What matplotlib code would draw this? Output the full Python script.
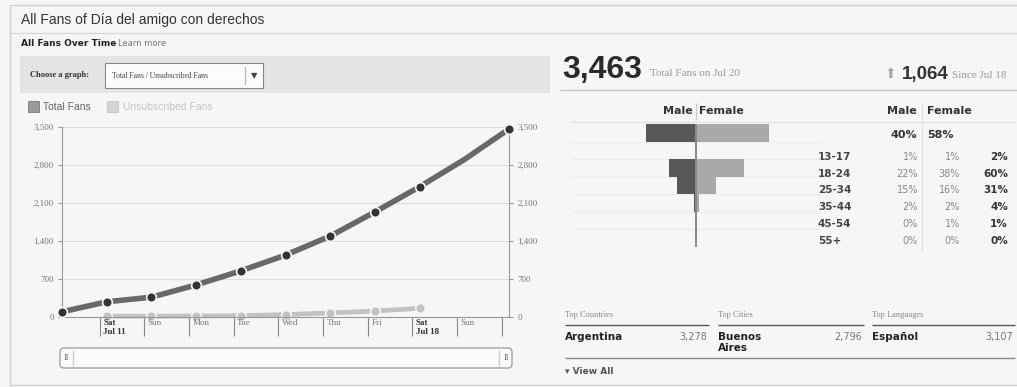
import matplotlib.pyplot as plt
from matplotlib.patches import Rectangle, FancyBboxPatch

W, H = 1017, 387

# fans over time, Jul 10 .. Jul 20
day_names = ['Jul 10', 'Jul 11', 'Jul 12', 'Jul 13', 'Jul 14', 'Jul 15',
             'Jul 16', 'Jul 17', 'Jul 18', 'Jul 19', 'Jul 20']
total_fans = [95, 280, 365, 590, 850, 1140, 1490, 1935, 2399, 2900, 3463]
# unsubscribed fans, Jul 11 .. Jul 18
unsub_fans = [15, 15, 18, 25, 45, 75, 110, 160]
tick_labels = ['Sat\nJul 11', 'Sun', 'Mon', 'Tue', 'Wed', 'Thu', 'Fri',
               'Sat\nJul 18', 'Sun', '']
y_ticks = [0, 700, 1400, 2100, 2800, 3500]

# demographics
age_groups = ['13-17', '18-24', '25-34', '35-44', '45-54', '55+']
male_pct = [1, 22, 15, 2, 0, 0]
female_pct = [1, 38, 16, 2, 1, 0]
total_pct = [2, 60, 31, 4, 1, 0]
male_all, female_all = 40, 58

top_country, country_n = 'Argentina', '3,278'
top_city, city_n = 'Buenos\nAires', '2,796'
top_lang, lang_n = 'Español', '3,107'

SANS = 'DejaVu Sans'
ARIAL = 'Liberation Sans'
SERIF = 'Liberation Serif'

fig = plt.figure(figsize=(W / 100, H / 100), dpi=100, facecolor='#f6f6f6')
bg = fig.add_axes([0, 0, 1, 1], zorder=0)
bg.set_xlim(0, W)
bg.set_ylim(H, 0)
bg.axis('off')


def px_axes(x0, y0, x1, y1, **kw):
    return fig.add_axes([x0 / W, 1 - y1 / H, (x1 - x0) / W, (y1 - y0) / H], **kw)


def hline(y, x0, x1, c='#d8d8d8', lw=1):
    bg.plot([x0, x1], [y, y], color=c, lw=lw, solid_capstyle='butt')


def vline(x, y0, y1, c='#d8d8d8', lw=1):
    bg.plot([x, x], [y0, y1], color=c, lw=lw, solid_capstyle='butt')


# frame and header
bg.add_patch(Rectangle((10, 5), 1010, 380, fc='none', ec='#d0d0d0', lw=1))
hline(33, 10, W)
bg.text(21, 20, 'All Fans of Día del amigo con derechos', fontsize=10,
        family=ARIAL, color='#333', va='center')
bg.text(21, 44, 'All Fans Over Time', fontsize=6.5, family=SANS,
        weight='bold', color='#222', va='center')
bg.text(118, 44, 'Learn more', fontsize=6, family=SANS, color='#777', va='center')

# graph chooser bar
bg.add_patch(Rectangle((20, 56), 530, 37, fc='#e4e4e4', ec='none'))
bg.text(30, 75, 'Choose a graph:', fontsize=6, family=SERIF, weight='bold',
        color='#333', va='center')
bg.add_patch(Rectangle((105, 63), 158, 25, fc='#fcfcfc', ec='#888', lw=0.8))
bg.text(112, 75.5, 'Total Fans / Unsubscribed Fans', fontsize=5.5,
        family=SERIF, color='#444', va='center')
vline(245, 66, 85, c='#bbb')
bg.text(254, 75.5, '▼', fontsize=6, family=SANS, color='#444',
        ha='center', va='center')

# series toggles
bg.add_patch(Rectangle((28, 101), 11, 11, fc='#9a9a9a', ec='#777', lw=0.6))
bg.text(43, 107, 'Total Fans', fontsize=7.5, family=ARIAL,
        color='#666', va='center')
bg.add_patch(Rectangle((107, 101), 11, 11, fc='#d4d4d4', ec='#c4c4c4', lw=0.6))
bg.text(123, 107, 'Unsubscribed Fans', fontsize=7.5, family=ARIAL,
        color='#c4c4c4', va='center')

# line chart
ax = px_axes(62, 127, 509, 317, zorder=2)
ax.patch.set_alpha(0)
x_days = list(range(len(day_names)))
x_unsub = x_days[1:1 + len(unsub_fans)]
ax.plot(x_days, total_fans, color='#686868', lw=4, solid_capstyle='round',
        zorder=3, clip_on=False)
mark = [i for i in x_days if day_names[i] != 'Jul 19']
ax.plot(mark, [total_fans[i] for i in mark], 'o', ms=7, mfc='#333',
        mec='#f6f6f6', mew=1.2, zorder=4, clip_on=False)
ax.plot(x_unsub, unsub_fans, color='#c2c2c2', lw=3.4, solid_capstyle='round',
        zorder=2, clip_on=False)
ax.plot(x_unsub, unsub_fans, 'o', ms=7, mfc='#c2c2c2', mec='#f6f6f6',
        mew=1.2, zorder=2, clip_on=False)

ax.set_xlim(0, 10)
ax.set_ylim(0, 3500)
ax.set_yticks(y_ticks)
ax.set_yticklabels([f'{v:,}' for v in y_ticks])
ax.tick_params(axis='y', left=True, right=True, labelleft=True,
               labelright=True, length=3, width=0.8, color='#999',
               labelsize=6.5, labelcolor='#777', pad=3)
for t in ax.yaxis.get_major_ticks():
    t.label1.set_family(SERIF)
    t.label2.set_family(SERIF)
ax.grid(axis='y', color='#dedede', lw=0.8)
ax.set_axisbelow(True)

tick_pos = [i - 0.16 for i in range(1, 11)]
ax.set_xticks(tick_pos)
ax.tick_params(axis='x', length=14, width=0.8, color='#888', labelbottom=False)
for p, lab in zip(tick_pos, tick_labels):
    bold = '\n' in lab
    ax.text(p + 0.08, -0.012, lab, transform=ax.get_xaxis_transform(),
            ha='left', va='top', fontsize=6.5, family=SERIF,
            weight='bold' if bold else 'normal',
            color='#333' if bold else '#777', linespacing=1.2)
for s in ['left', 'right', 'bottom']:
    ax.spines[s].set_color('#999')
    ax.spines[s].set_linewidth(0.8)
ax.spines['top'].set_visible(False)

# range scrollbar
bg.add_patch(FancyBboxPatch((60, 348), 452, 20, boxstyle='round,pad=0,rounding_size=4',
                            fc='#fbfbfb', ec='#999', lw=0.9))
vline(73, 350, 366, c='#ccc')
vline(499, 350, 366, c='#ccc')
bg.text(66, 358, 'II', fontsize=6, family=SERIF, color='#666',
        ha='center', va='center')
bg.text(506, 358, 'II', fontsize=6, family=SERIF, color='#666',
        ha='center', va='center')

# totals
bg.text(562, 70, '3,463', fontsize=23, family=ARIAL, weight='bold',
        color='#2a2a2a', va='center')
bg.text(650, 74, 'Total Fans on Jul 20', fontsize=8, family=SERIF,
        color='#9a9a9a', va='center')
bg.text(890, 74, '⬆', fontsize=10, family=SANS, color='#aaa',
        ha='center', va='center')
bg.text(902, 75, '1,064', fontsize=13.5, family=ARIAL, weight='bold',
        color='#333', va='center')
bg.text(952, 76, 'Since Jul 18', fontsize=8, family=SERIF, color='#9a9a9a',
        va='center')
hline(90, 560, W, c='#c8c8c8')

# gender / age pyramid
pax = px_axes(571, 124, 821, 247, zorder=2)
pax.patch.set_alpha(0)
rows = list(range(len(age_groups) + 1))
males = [male_all] + male_pct
females = [female_all] + female_pct
pax.barh([r + 0.5 for r in rows], [-m for m in males], height=1.0,
         color='#585858')
pax.barh([r + 0.5 for r in rows], females, height=1.0, color='#a9a9a9')
for r in rows[1:]:
    pax.axhline(r, color='#ececec', lw=0.8, zorder=0)
pax.axvline(0, color='#8a8a8a', lw=1.4)
pax.set_xlim(-100, 100)
pax.set_ylim(len(rows), 0)
pax.axis('off')

bg.text(693, 111, 'Male', fontsize=8, family=SANS, weight='bold',
        color='#333', ha='right', va='center')
bg.text(699, 111, 'Female', fontsize=8, family=SANS, weight='bold',
        color='#333', ha='left', va='center')
vline(696, 103, 120, c='#ccc')
bg.text(917, 111, 'Male', fontsize=8, family=SANS, weight='bold',
        color='#333', ha='right', va='center')
bg.text(927, 111, 'Female', fontsize=8, family=SANS, weight='bold',
        color='#333', ha='left', va='center')
hline(122, 570, 1015, c='#e2e2e2')
vline(922, 103, 252, c='#e4e4e4')
bg.text(917, 135, f'{male_all}%', fontsize=8, family=SANS, weight='bold',
        color='#333', ha='right', va='center')
bg.text(927, 135, f'{female_all}%', fontsize=8, family=SANS, weight='bold',
        color='#333', ha='left', va='center')

for i, g in enumerate(age_groups):
    y = 157 + 16.7 * i
    bg.text(818, y, g, fontsize=7.5, family=SANS, weight='bold',
            color='#444', va='center')
    bg.text(918, y, f'{male_pct[i]}%', fontsize=7, family=SANS,
            color='#888', ha='right', va='center')
    bg.text(960, y, f'{female_pct[i]}%', fontsize=7, family=SANS,
            color='#888', ha='right', va='center')
    bg.text(1008, y, f'{total_pct[i]}%', fontsize=7.5, family=SANS,
            weight='bold', color='#333', ha='right', va='center')

# top countries / cities / languages
cols = [(565, 707, 'Top Countries', top_country, country_n),
        (718, 862, 'Top Cities', top_city, city_n),
        (872, 1013, 'Top Languages', top_lang, lang_n)]
for x0, x1, head, name, n in cols:
    bg.text(x0, 315, head, fontsize=6, family=SERIF, color='#888',
            va='center')
    hline(325, x0, x1 + 2, c='#555', lw=1)
    bg.text(x0, 332, name, fontsize=7.5, family=SANS, weight='bold',
            color='#222', va='top', linespacing=1.15)
    bg.text(x1, 332, n, fontsize=7, family=SANS, color='#777',
            ha='right', va='top')
hline(358, 565, 1015, c='#888')
bg.text(565, 372, '▾ View All', fontsize=6.5, family=SANS, weight='bold',
        color='#555', va='center')

fig.savefig('out.png', dpi=100, facecolor=fig.get_facecolor())
